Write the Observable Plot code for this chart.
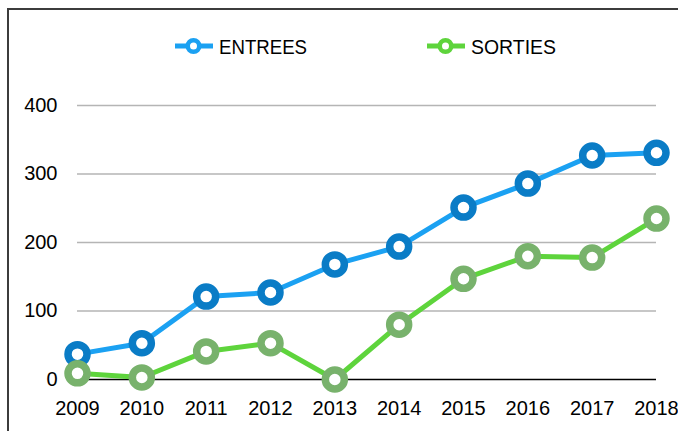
<!DOCTYPE html>
<html>
<head>
<meta charset="utf-8">
<script src="https://cdn.jsdelivr.net/npm/d3@7"></script>
<script src="https://cdn.jsdelivr.net/npm/@observablehq/plot@0.6"></script>
<style>
  html, body { margin: 0; padding: 0; background: #fff; width: 678px; height: 431px; overflow: hidden; }
  body { position: relative; font-family: "Liberation Sans", Arial, Helvetica, sans-serif; }
  #frame { position: absolute; left: 7px; top: 8px; width: 700px; height: 450px;
           border-top: 2px solid #3c3c3c; border-left: 2px solid #3c3c3c; pointer-events: none; }
  #legend { position: relative; height: 80px; }
  .item { position: absolute; top: 33px; }
  .item svg { display: block; overflow: visible; }
  #chart svg { display: block; }
</style>
</head>
<body>
<div id="frame"></div>
<div id="legend"></div>
<div id="chart"></div>
<script>
const years = [2009, 2010, 2011, 2012, 2013, 2014, 2015, 2016, 2017, 2018];
const entrees = [37, 53, 121, 127, 168, 194, 251, 286, 327, 331];
const sorties = [9, 3, 41, 53, 0, 80, 147, 180, 178, 235];
const yTicks = [0, 100, 200, 300, 400];
const seriesNames = ["ENTREES", "SORTIES"];
const lineColors = ["#1ba1f2", "#5ed43c"];
const dotColors = ["#0a7cc6", "#78b26c"];
const legendLeft = [175, 427];
const legendTextWidth = [88, 85];

const data = years.map((y, i) => ({year: y, entrees: entrees[i], sorties: sorties[i]}));

// Legend
const legend = document.getElementById("legend");
seriesNames.forEach((name, i) => {
  const item = document.createElement("div");
  item.className = "item";
  item.style.left = legendLeft[i] + "px";
  const w = 44 + legendTextWidth[i];
  item.innerHTML = `<svg width="${w}" height="26">
    <line x1="0" x2="38" y1="13" y2="13" stroke="${lineColors[i]}" stroke-width="5"/>
    <circle cx="18.5" cy="13" r="5.75" fill="#fff" stroke="${lineColors[i]}" stroke-width="4.5"/>
    <text x="44" y="21" font-family="'Liberation Sans', Arial, Helvetica, sans-serif" font-size="20" fill="#000"
      textLength="${legendTextWidth[i]}" lengthAdjust="spacingAndGlyphs">${name}</text>
  </svg>`;
  legend.appendChild(item);
});

const chart = Plot.plot({
  width: 678,
  height: 351,
  marginTop: 25,
  marginBottom: 52,
  marginLeft: 77,
  marginRight: 22,
  style: {fontFamily: "'Liberation Sans', Arial, Helvetica, sans-serif", fontSize: "20px", color: "#000", background: "transparent", overflow: "visible"},
  x: {domain: [2009, 2018]},
  y: {domain: [0, 400]},
  marks: [
    Plot.ruleY(yTicks.filter(d => d > 0), {stroke: "#b5b5b5", strokeWidth: 1.5}),
    Plot.ruleY([0], {stroke: "#000", strokeWidth: 1.5}),
    Plot.axisX({ticks: years, tickFormat: d => String(d), tickSize: 0, tickPadding: 21, fontSize: 20, label: null}),
    Plot.axisY({ticks: yTicks, tickFormat: d => String(d), tickSize: 0, tickPadding: 20, fontSize: 20, label: null}),
    Plot.line(data, {x: "year", y: "entrees", stroke: lineColors[0], strokeWidth: 5}),
    Plot.dot(data, {x: "year", y: "entrees", r: 9.5, stroke: dotColors[0], strokeWidth: 7.5, fill: "#fff"}),
    Plot.line(data, {x: "year", y: "sorties", stroke: lineColors[1], strokeWidth: 5}),
    Plot.dot(data, {x: "year", y: "sorties", r: 9.5, stroke: dotColors[1], strokeWidth: 7.5, fill: "#fff"})
  ]
});
document.getElementById("chart").appendChild(chart);
</script>
</body>
</html>
